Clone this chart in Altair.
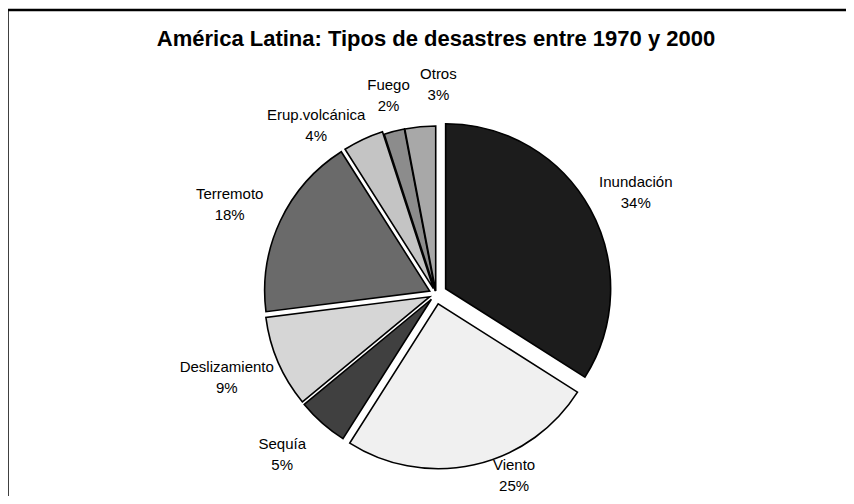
import altair as alt
import pandas as pd

# ---- data ----
TITLE = "América Latina: Tipos de desastres entre 1970 y 2000"
categories = ["Inundación", "Viento", "Sequía", "Deslizamiento",
              "Terremoto", "Erup.volcánica", "Fuego", "Otros"]
shares = [34, 25, 5, 9, 18, 4, 2, 3]

# ---- styling ----
fills = ["#1c1c1c", "#f0f0f0", "#404040", "#d6d6d6",
         "#6a6a6a", "#c4c4c4", "#8c8c8c", "#a8a8a8"]
explode = [11, 10, 7, 7, 7, 6, 3, 3]               # slice pull-out (px)
label_turn = [0, -9, 0, 0, 0, -8, 2, 6]           # label angle nudge (deg)
label_scale = [1, 0.93, 1.02, 1, 1, 0.96, 0.97, 1]  # label distance factor

FONT = "Liberation Sans"
W, H = 836, 488
CX, CY = 426, 286
R = 165
LRX, LRY = 228, 210
LINE_H = 21

df = pd.DataFrame({
    "cat": categories,
    "share": shares,
    "idx": list(range(len(categories))),
    "explode": explode,
    "turn": label_turn,
    "lscale": label_scale,
})

base = (
    alt.Chart(df)
    .transform_joinaggregate(total="sum(share)")
    .transform_window(cum="sum(share)", sort=[alt.SortField("idx", order="ascending")], frame=[None, 0])
    .transform_calculate(
        mid="(datum.cum - datum.share / 2) / datum.total * 2 * PI",
        lmid="datum.mid + datum.turn * PI / 180",
        px=f"{CX} + datum.explode * sin(datum.mid)",
        py=f"{CY} - datum.explode * cos(datum.mid)",
        lx=f"{CX} + datum.lscale * {LRX} * sin(datum.lmid)",
        ly=f"{CY} - datum.lscale * {LRY} * cos(datum.lmid) - {LINE_H / 2}",
        label="datum.cat + '\\n' + datum.share + '%'",
    )
)

pie = base.mark_arc(radius=R, stroke="black", strokeWidth=1.6, strokeJoin="miter").encode(
    theta=alt.Theta("share:Q", stack=True),
    order=alt.Order("idx:Q", sort="ascending"),
    color=alt.Color("cat:N", scale=alt.Scale(domain=categories, range=fills), legend=None),
    x=alt.X("px:Q", scale=None, axis=None),
    y=alt.Y("py:Q", scale=None, axis=None),
)

labels = base.mark_text(
    font=FONT, fontSize=15, lineBreak="\n", lineHeight=LINE_H,
    align="center", baseline="middle", color="black",
).encode(
    x=alt.X("lx:Q", scale=None, axis=None),
    y=alt.Y("ly:Q", scale=None, axis=None),
    text="label:N",
)

one = alt.Chart(pd.DataFrame({"t": [TITLE]}))

title = one.mark_text(
    font=FONT, fontSize=22, fontWeight="bold", align="center",
    baseline="alphabetic", color="black",
).encode(x=alt.value(CX), y=alt.value(38), text="t:N")

frame_top = one.mark_rule(color="black", strokeWidth=2.5).encode(
    x=alt.value(-3), x2=alt.value(W), y=alt.value(2)
)
frame_left = one.mark_rule(color="black", strokeWidth=2.5).encode(
    x=alt.value(-2.5), y=alt.value(2), y2=alt.value(H)
)

chart = (
    alt.layer(frame_top, frame_left, pie, labels, title)
    .properties(
        width=W, height=H,
        autosize=alt.AutoSizeParams(type="none"),
        padding={"left": 2, "top": 0, "right": 0, "bottom": 0},
        background="white",
    )
    .configure_view(stroke=None)
)

chart.save("out.html", embed_options={"renderer": "svg", "actions": False})
